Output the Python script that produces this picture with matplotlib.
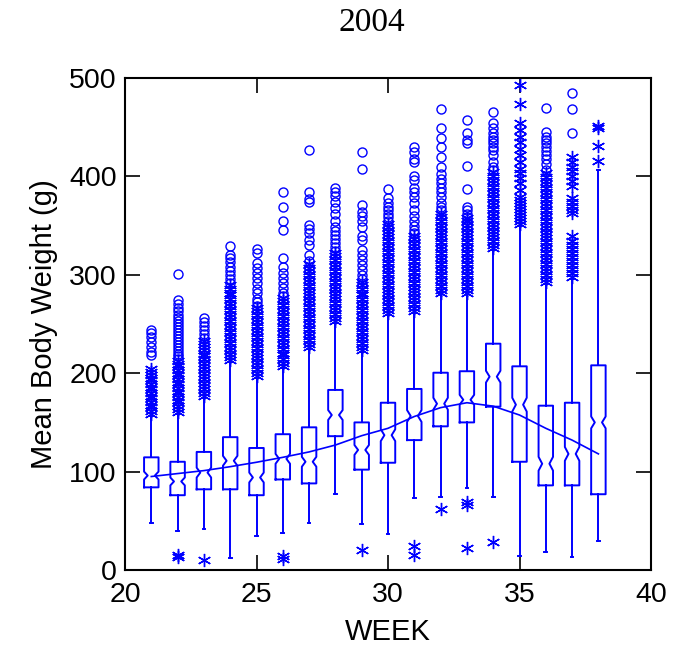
import matplotlib
matplotlib.use("Agg")
import matplotlib.pyplot as plt

plt.rcParams["font.family"] = ["Liberation Sans", "DejaVu Sans"]

# ---------------- data ----------------
weeks = [21, 22, 23, 24, 25, 26, 27, 28, 29, 30, 31, 32, 33, 34, 35, 36, 37, 38]
q1 = [84, 76, 82, 82, 76, 92, 88, 136, 102, 109, 132, 146, 150, 166, 110, 86, 86, 77]
median = [96, 90, 99, 111, 94, 113, 110, 157.5, 122, 137, 156.5, 169, 173, 196.5, 168, 108, 118, 150]
q3 = [114.5, 110, 120, 135, 124, 138, 145, 183, 150, 170, 184, 200.5, 202, 230, 207, 167, 170, 208]
whisker_low = [48, 40, 42, 12, 35, 38, 48, 77, 47, 37, 73.5, 74.5, 83, 74.5, 14, 18.6, 13, 29]
whisker_high = [157, 159, 175, 211, 195, 205, 225, 251, 222, 259, 261, 280, 280, 325, 350, 291, 296, 406]
notch_low = [92, 86, 94, 106, 89, 108, 105, 152.5, 117, 131, 150.5, 163, 168, 190.5, 161, 101, 111, 144]
notch_high = [100, 94, 104, 116, 99, 118, 115, 162.5, 127, 143, 162.5, 175, 178, 202.5, 175, 115, 125, 156]

# outside values (asterisks) per week
star_values = [
    [159, 162, 166, 168, 171, 175, 177, 180, 184, 186, 189, 193, 195, 198, 201, 204],
    [13, 15, 161, 164, 167, 171, 173, 176, 180, 182, 185, 189, 191, 194, 198, 200, 203, 207, 209, 212],
    [10, 177, 180, 184, 187, 190, 194, 197, 200, 204, 207, 210, 214, 217, 220, 224, 227, 230, 233],
    [213, 216, 220, 224, 227, 231, 235, 238, 242, 246, 249, 253, 257, 260, 264, 268, 271, 275, 279, 282, 286, 290],
    [197, 200, 204, 208, 211, 215, 219, 222, 226, 230, 233, 237, 241, 244, 248, 252, 255, 259, 263, 266],
    [11, 14, 207, 210, 214, 218, 221, 225, 229, 232, 236, 240, 243, 247, 251, 254, 258, 262, 265, 269, 273, 276],
    [227, 230, 234, 238, 241, 245, 249, 252, 256, 260, 263, 267, 271, 274, 278, 282, 285, 289, 293, 296, 300, 304, 307, 311],
    [253, 256, 260, 264, 267, 271, 275, 278, 282, 286, 289, 293, 297, 300, 304, 308, 311, 315, 319, 322],
    [20, 224, 227, 231, 235, 238, 242, 246, 249, 253, 257, 260, 264, 268, 271, 275, 279, 282, 286, 290, 293],
    [261, 264, 268, 272, 275, 279, 283, 286, 290, 294, 297, 301, 305, 308, 312, 316, 319, 323, 327, 330, 334, 338, 341, 345, 349, 352],
    [15, 24, 263, 266, 270, 274, 277, 281, 285, 288, 292, 296, 299, 303, 307, 310, 314, 318, 321, 325, 329, 332, 336, 339],
    [62, 282, 285, 289, 293, 296, 300, 304, 307, 311, 315, 318, 322, 326, 329, 333, 337, 340, 344, 348, 351, 355, 359, 362],
    [22, 66, 69, 282, 285, 289, 293, 296, 300, 304, 307, 311, 315, 318, 322, 326, 329, 333, 337, 340, 344, 348, 351, 355, 358],
    [28, 327, 330, 334, 338, 341, 345, 349, 352, 356, 360, 363, 367, 371, 374, 378, 382, 385, 389, 393, 396, 400, 404],
    [352, 355, 358, 361, 364, 367, 370, 373, 376, 379, 386, 393, 398, 403, 408, 415, 422, 428, 435, 440, 447, 454, 474, 493],
    [293, 296, 300, 304, 307, 311, 315, 318, 322, 326, 329, 333, 337, 340, 344, 348, 351, 355, 359, 362, 366, 370, 373, 377, 381, 384, 388, 392, 395, 399, 403],
    [298, 302, 306, 310, 314, 318, 322, 326, 330, 334, 339, 363, 366, 370, 374, 378, 390, 395, 400, 405, 410, 415, 420],
    [416, 431, 449, 451],
]

# far outside values (circles) per week
circle_values = [
    [219, 222, 227, 232, 237, 241, 244],
    [214, 217, 220, 223, 226, 229, 232, 235, 238, 241, 244, 247, 250, 253, 256, 259, 263, 266, 270, 274, 301],
    [236, 240, 244, 248, 252, 256],
    [292, 296, 300, 304, 308, 313, 317, 320, 329],
    [268, 272, 275, 281, 286, 292, 297, 302, 307, 312, 322, 326],
    [278, 282, 287, 292, 297, 302, 308, 317, 346, 355, 369, 384],
    [314, 320, 330, 335, 342, 347, 351, 374, 377, 384, 427],
    [324, 328, 332, 336, 340, 345, 349, 355, 362, 368, 374, 380, 384, 388],
    [296, 300, 305, 310, 315, 320, 325, 335, 339, 349, 355, 360, 364, 371, 408, 425],
    [355, 359, 362, 366, 369, 373, 378, 387],
    [342, 346, 350, 355, 360, 366, 373, 379, 384, 388, 396, 400, 415, 418, 425, 430],
    [366, 369, 373, 379, 384, 388, 393, 397, 402, 410, 420, 430, 439, 449, 468],
    [359, 362, 366, 369, 387, 411, 434, 437, 444, 457],
    [406, 410, 415, 422, 427, 430, 434, 437, 440, 444, 449, 454, 465],
    [],
    [406, 413, 418, 422, 426, 430, 434, 437, 440, 445, 470],
    [444, 469, 485],
    [],
]

# smooth fit through the weekly weights
fit_weight = [95, 98, 101, 105, 109.5, 114.5, 120, 127, 136.5, 144, 156, 165, 170, 166.5, 157.5, 144, 132, 118]

# ---------------- drawing ----------------
BLUE = "#0000ff"
fig = plt.figure(figsize=(6.77, 6.45), dpi=100)
ax = fig.add_axes([125 / 677, 1 - 570 / 645, (651 - 125) / 677, (570 - 78) / 645])

stats = []
for i in range(len(weeks)):
    stats.append(dict(med=median[i], q1=q1[i], q3=q3[i],
                      whislo=whisker_low[i], whishi=whisker_high[i],
                      cilo=notch_low[i], cihi=notch_high[i], fliers=[]))

ax.bxp(stats, positions=weeks, widths=0.55, shownotches=True, showfliers=False,
       capwidths=0.1, manage_ticks=False,
       boxprops=dict(color=BLUE, linewidth=1.4),
       whiskerprops=dict(color=BLUE, linewidth=1.4),
       capprops=dict(color=BLUE, linewidth=1.4),
       medianprops=dict(linewidth=0))

for w, vals in zip(weeks, star_values):
    if vals:
        ax.plot([w] * len(vals), vals, linestyle="none", marker=(6, 2, 0),
                markersize=9.5, markeredgewidth=1.0, color=BLUE)
for w, vals in zip(weeks, circle_values):
    if vals:
        ax.plot([w] * len(vals), vals, linestyle="none", marker="o",
                markersize=6.5, markeredgewidth=1.0, markerfacecolor="none",
                markeredgecolor=BLUE)

ax.plot(weeks, fit_weight, color=BLUE, linewidth=1.2)

ax.set_xlim(20, 40)
ax.set_ylim(0, 500)
ax.set_xticks([20, 25, 30, 35, 40])
ax.set_yticks([0, 100, 200, 300, 400, 500])
ax.tick_params(axis="both", direction="in", length=11, width=1.2,
               top=True, right=True, labelsize=20.5, colors="black")
ax.tick_params(axis="x", pad=9)
ax.tick_params(axis="y", pad=6)
for s in ax.spines.values():
    s.set_linewidth(1.5)

ax.set_xlabel("WEEK", fontsize=21, labelpad=7)
ax.set_ylabel("Mean Body Weight (g)", fontsize=21, labelpad=8)
fig.text(372 / 677, 1 - 23 / 645, "2004", ha="center", va="center",
         family=["Liberation Serif", "DejaVu Serif"], fontsize=24)

fig.savefig("out.png", dpi=100)
